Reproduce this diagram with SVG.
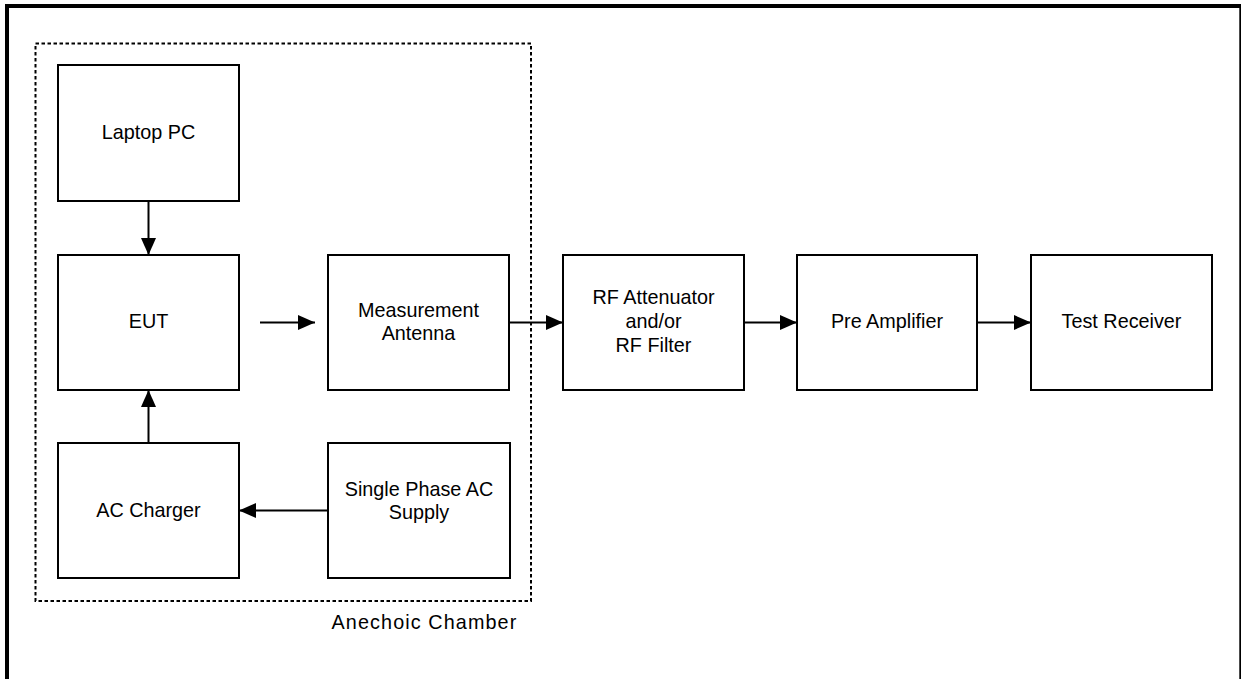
<svg xmlns="http://www.w3.org/2000/svg" width="1241" height="679" viewBox="0 0 1241 679">
  <style>
    .box { fill: #ffffff; stroke: #000000; stroke-width: 2; }
    .lbl { font-family: "Liberation Sans", Arial, sans-serif; font-size: 19.8px; fill: #000000; text-anchor: middle; }
    .wire { stroke: #000000; stroke-width: 2; fill: none; marker-end: url(#head); }
    .chamber { fill: none; stroke: #000000; stroke-width: 2; stroke-dasharray: 3.5 2.5; }
  </style>
  <defs>
    <marker id="head" markerUnits="userSpaceOnUse" viewBox="0 0 17 15" refX="17" refY="7.5" markerWidth="17" markerHeight="15" orient="auto">
      <path d="M0,0 L17,7.5 L0,15 Z" fill="#000000"/>
    </marker>
  </defs>

  <rect width="1241" height="679" fill="#ffffff"/>

  <!-- page frame: heavy top and left rule, hairline right -->
  <g id="frame" fill="#000000">
    <rect x="5" y="4" width="1236" height="4"/>
    <rect x="5" y="4" width="4" height="675"/>
    <rect x="1239.3" y="4" width="1.7" height="675"/>
  </g>

  <!-- anechoic chamber boundary -->
  <g id="chamber">
    <rect class="chamber" x="35.5" y="43.5" width="495.5" height="557.5"/>
    <text class="lbl" x="424.5" y="629.3" letter-spacing="1.1">Anechoic Chamber</text>
  </g>

  <g id="laptop">
    <rect class="box" x="58" y="65" width="181" height="136"/>
    <text class="lbl" x="148.5" y="139.3">Laptop PC</text>
  </g>

  <g id="eut">
    <rect class="box" x="58" y="255" width="181" height="135"/>
    <text class="lbl" x="148.5" y="328">EUT</text>
  </g>

  <g id="charger">
    <rect class="box" x="58" y="443" width="181" height="135"/>
    <text class="lbl" x="148.5" y="516.7">AC Charger</text>
  </g>

  <g id="antenna">
    <rect class="box" x="328" y="255" width="181" height="135"/>
    <text class="lbl" x="418.5" y="317.3">Measurement</text>
    <text class="lbl" x="418.5" y="340">Antenna</text>
  </g>

  <g id="supply">
    <rect class="box" x="328" y="443" width="182" height="135"/>
    <text class="lbl" x="419" y="496">Single Phase AC</text>
    <text class="lbl" x="419" y="518.5">Supply</text>
  </g>

  <g id="attenuator">
    <rect class="box" x="563" y="255" width="181" height="135"/>
    <text class="lbl" x="653.5" y="303.5">RF Attenuator</text>
    <text class="lbl" x="653.5" y="327.5">and/or</text>
    <text class="lbl" x="653.5" y="351.5">RF Filter</text>
  </g>

  <g id="preamp">
    <rect class="box" x="797" y="255" width="180" height="135"/>
    <text class="lbl" x="887" y="328">Pre Amplifier</text>
  </g>

  <g id="receiver">
    <rect class="box" x="1031" y="255" width="181" height="135"/>
    <text class="lbl" x="1121.5" y="328">Test Receiver</text>
  </g>

  <g id="connectors">
    <line class="wire" x1="148.5" y1="201" x2="148.5" y2="255"/>
    <line class="wire" x1="148.5" y1="443" x2="148.5" y2="390"/>
    <line class="wire" x1="328" y1="510.5" x2="239" y2="510.5"/>
    <line class="wire" x1="260" y1="322.5" x2="315" y2="322.5"/>
    <line class="wire" x1="509" y1="322.5" x2="563" y2="322.5"/>
    <line class="wire" x1="744" y1="322.5" x2="797" y2="322.5"/>
    <line class="wire" x1="977" y1="322.5" x2="1031" y2="322.5"/>
  </g>
</svg>
